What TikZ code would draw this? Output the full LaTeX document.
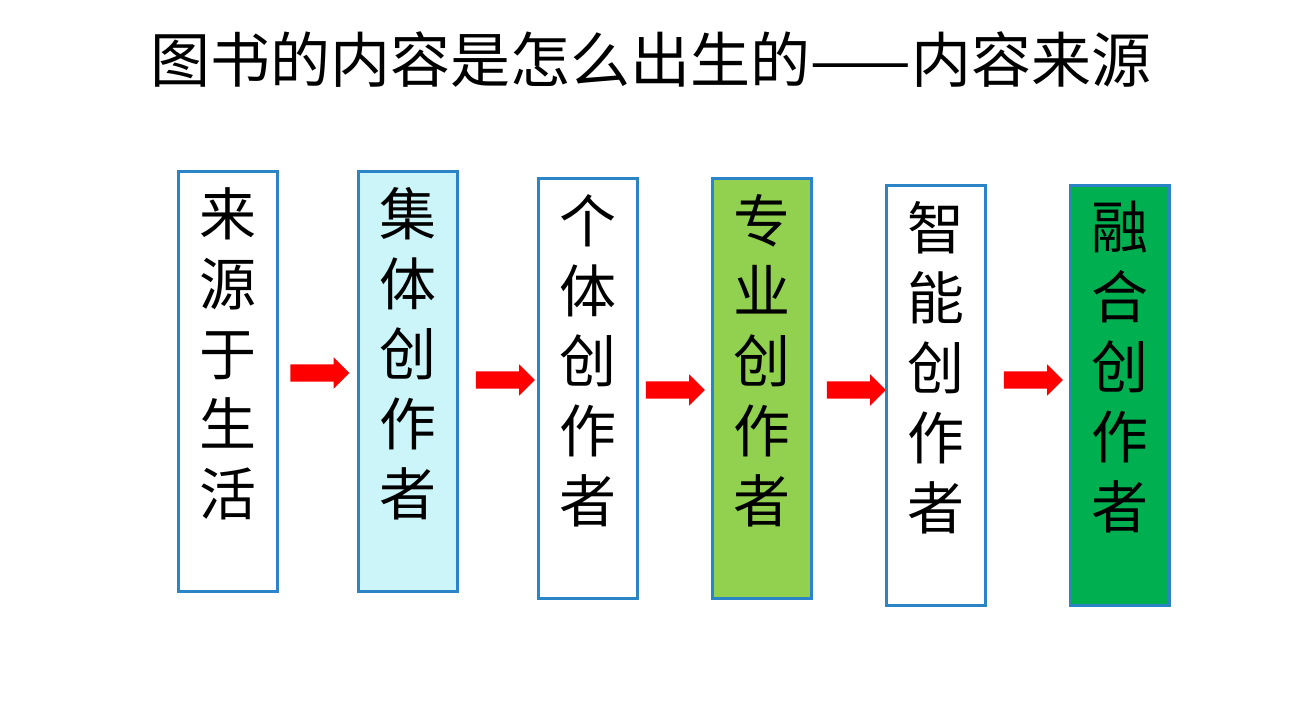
\documentclass[tikz,border=0pt]{standalone}
\usepackage{fontspec}
\setmainfont{Noto Sans CJK SC}
\usetikzlibrary{shapes.arrows}
\definecolor{bordc}{HTML}{2A84C6}
\definecolor{lcyan}{HTML}{CCF5F9}
\definecolor{lgreen}{HTML}{92D050}
\definecolor{dgreen}{HTML}{00B050}
\definecolor{arrred}{HTML}{FF0000}
\tikzset{
  box/.style={draw=bordc, line width=2.5pt, fill=white, minimum width=99pt, minimum height=420pt, anchor=north west, inner sep=0pt},
  boxtext/.style={anchor=north, align=center, font=\fontsize{57}{70}\selectfont, inner sep=0pt},
  redarrow/.style={single arrow, fill=arrred, draw=none, minimum height=59pt, single arrow head extend=7pt, inner xsep=0pt, inner ysep=8.5pt, text height=0pt, text depth=0pt, text width=0pt},
}
\begin{document}
\begin{tikzpicture}[x=1pt,y=-1pt]
\useasboundingbox[fill=white] (0,0) rectangle (1304,726);
\node[font=\fontsize{60}{64}\selectfont, inner sep=0pt] (title) at (651,60) {图书的内容是怎么出生的——内容来源};

\node[box] (b1) at (177,170) {};
\node[box, fill=lcyan] (b2) at (357,170) {};
\node[box] (b3) at (537,177) {};
\node[box, fill=lgreen] (b4) at (711,177) {};
\node[box] (b5) at (885,184) {};
\node[box, fill=dgreen] (b6) at (1069,184) {};

\node[boxtext] (t1) at ([yshift=-17pt]b1.north) {来\\源\\于\\生\\活};
\node[boxtext] (t2) at ([yshift=-17pt]b2.north) {集\\体\\创\\作\\者};
\node[boxtext] (t3) at ([yshift=-17pt]b3.north) {个\\体\\创\\作\\者};
\node[boxtext] (t4) at ([yshift=-17pt]b4.north) {专\\业\\创\\作\\者};
\node[boxtext] (t5) at ([yshift=-17pt]b5.north) {智\\能\\创\\作\\者};
\node[boxtext] (t6) at ([yshift=-17pt]b6.north) {融\\合\\创\\作\\者};

\node[redarrow] (a1) at (315.5,373) {};
\node[redarrow] (a2) at (501,380) {};
\node[redarrow] (a3) at (671,390) {};
\node[redarrow] (a4) at (852,390) {};
\node[redarrow] (a5) at (1029,380) {};
\end{tikzpicture}
\end{document}
